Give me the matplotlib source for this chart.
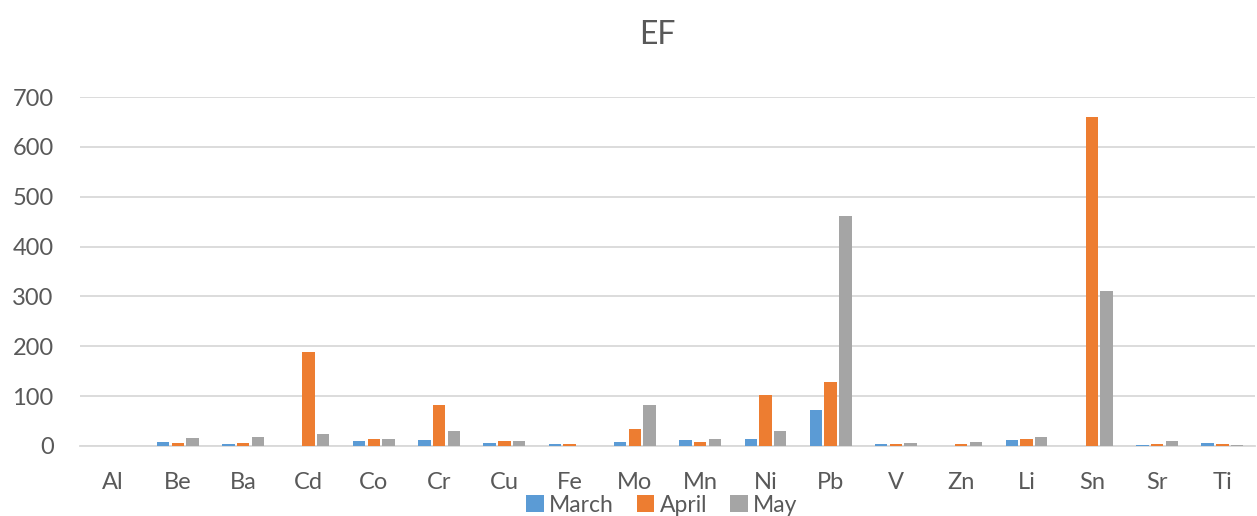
import matplotlib
matplotlib.use("Agg")
import matplotlib.pyplot as plt
import numpy as np

categories = ["Al", "Be", "Ba", "Cd", "Co", "Cr", "Cu", "Fe", "Mo", "Mn",
              "Ni", "Pb", "V", "Zn", "Li", "Sn", "Sr", "Ti"]
march = [0, 8, 5, 0, 10, 13, 7, 5, 9, 12, 15, 73, 4, 0, 13, 0, 3, 7]
april = [0, 6, 6, 188, 14, 82, 11, 4, 35, 8, 102, 128, 5, 4.5, 14, 660, 4, 4]
may = [0, 16, 18, 24, 14, 30, 11, 0, 82, 14, 30, 462, 7, 8, 19, 311, 11, 2]
series = [("March", march, "#5B9BD5"), ("April", april, "#ED7D31"), ("May", may, "#A5A5A5")]
yticks = [0, 100, 200, 300, 400, 500, 600, 700]

plt.rcParams['font.family'] = ['Lato', 'DejaVu Sans']
txt = "#595959"

fig = plt.figure(figsize=(12.57, 5.16), dpi=100)
ax = fig.add_axes([80 / 1257, 1 - 446 / 516, (1255 - 80) / 1257, (446 - 97) / 516])

x = np.arange(len(categories))
w = 0.19
offs = [-0.225, 0, 0.225]
for (name, vals, col), o in zip(series, offs):
    ax.bar(x + o, vals, width=w, color=col, label=name, zorder=3)

ax.set_xlim(-0.5, len(categories) - 0.5)
ax.set_ylim(0, 700)
ax.set_yticks(yticks)
ax.set_xticks(x)
ax.set_xticklabels(categories)
ax.grid(axis="y", color="#D9D9D9", linewidth=1.3, zorder=0)
for s in ["top", "right", "left"]:
    ax.spines[s].set_visible(False)
ax.spines["bottom"].set_color("#D9D9D9")
ax.spines["bottom"].set_linewidth(1.3)
ax.tick_params(axis="both", length=0, labelsize=17, colors=txt)
ax.tick_params(axis="y", pad=19)
ax.tick_params(axis="x", pad=19)

fig.text(657 / 1257, 1 - 35 / 516, "EF", ha="center", va="center", fontsize=23, color=txt)

leg = fig.legend(loc="center", bbox_to_anchor=(662 / 1257, 1 - 505 / 516), ncol=3,
                 frameon=False, fontsize=16.5, handlelength=0.75, handleheight=0.75,
                 handletextpad=0.25, columnspacing=1.0, borderaxespad=0)
for t in leg.get_texts():
    t.set_color(txt)

fig.savefig("out.png", dpi=100)
